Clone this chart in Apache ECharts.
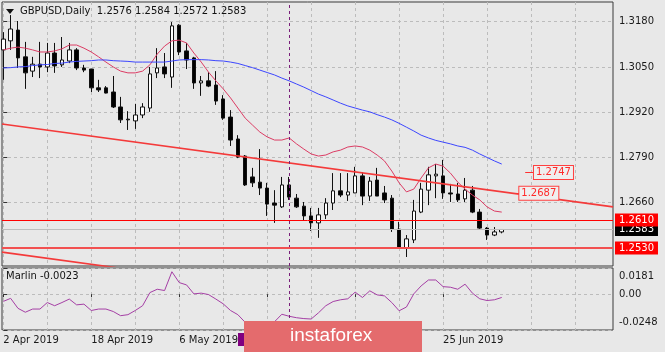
<!DOCTYPE html>
<html>
<head>
<meta charset="utf-8">
<script src="https://cdn.jsdelivr.net/npm/echarts@6/dist/echarts.min.js"></script>
<style>
  html, body { margin: 0; padding: 0; background: #e8e8e8; }
  #chart { width: 665px; height: 352px; }
</style>
</head>
<body>
<div id="chart"></div>
<script>
// GBPUSD daily bars, index 0 = 2 Apr 2019
var opens = [1.3099, 1.3125, 1.3156, 1.3079, 1.3038, 1.3058, 1.3050, 1.3090, 1.3056, 1.3067,
  1.3099, 1.3047, 1.3044, 1.2990, 1.2990, 1.2978, 1.2935, 1.2900, 1.2895, 1.2912,
  1.2932, 1.3033, 1.3050, 1.3021, 1.3170, 1.3096, 1.3076, 1.3004, 1.3010, 1.2998,
  1.2958, 1.2906, 1.2843, 1.2794, 1.2734, 1.2719, 1.2702, 1.2659, 1.2648, 1.2711,
  1.2673, 1.2650, 1.2622, 1.2602, 1.2625, 1.2659, 1.2694, 1.2682, 1.2688, 1.2737,
  1.2679, 1.2725, 1.2688, 1.2673, 1.2584, 1.2530, 1.2553, 1.2633, 1.2696, 1.2737,
  1.2737, 1.2688, 1.2685, 1.2671, 1.2696, 1.2633, 1.2587, 1.2567, 1.2576]
var closes = [1.3130, 1.3159, 1.3076, 1.3033, 1.3058, 1.3050, 1.3090, 1.3053, 1.3070, 1.3099,
  1.3047, 1.3041, 1.2990, 1.2984, 1.2975, 1.2935, 1.2898, 1.2898, 1.2912, 1.2935,
  1.3030, 1.3047, 1.3030, 1.3168, 1.3093, 1.3070, 1.3004, 1.3010, 1.2995, 1.2952,
  1.2903, 1.2840, 1.2791, 1.2711, 1.2717, 1.2702, 1.2656, 1.2653, 1.2711, 1.2676,
  1.2648, 1.2622, 1.2602, 1.2625, 1.2659, 1.2694, 1.2682, 1.2691, 1.2737, 1.2679,
  1.2722, 1.2679, 1.2668, 1.2584, 1.2530, 1.2556, 1.2636, 1.2699, 1.2740, 1.2742,
  1.2688, 1.2685, 1.2668, 1.2696, 1.2633, 1.2587, 1.2567, 1.2576, 1.2583]
var lows = [1.3013, 1.3099, 1.3047, 1.2987, 1.3021, 1.3018, 1.3035, 1.3033, 1.3050, 1.3061,
  1.3041, 1.3035, 1.2978, 1.2978, 1.2974, 1.2932, 1.2889, 1.2869, 1.2872, 1.2903,
  1.2921, 1.3018, 1.3018, 1.2990, 1.3084, 1.3044, 1.2987, 1.2967, 1.2992, 1.2941,
  1.2898, 1.2823, 1.2788, 1.2708, 1.2705, 1.2682, 1.2622, 1.2602, 1.2645, 1.2668,
  1.2645, 1.2610, 1.2579, 1.2559, 1.2613, 1.2639, 1.2676, 1.2665, 1.2688, 1.2653,
  1.2665, 1.2679, 1.2659, 1.2576, 1.2530, 1.2504, 1.2544, 1.2630, 1.2653, 1.2673,
  1.2671, 1.2662, 1.2662, 1.2662, 1.2630, 1.2584, 1.2553, 1.2564, 1.2572]
var highs = [1.3150, 1.3199, 1.3182, 1.3122, 1.3079, 1.3122, 1.3119, 1.3119, 1.3136, 1.3119,
  1.3104, 1.3056, 1.3044, 1.3013, 1.2995, 1.3024, 1.2964, 1.2923, 1.2944, 1.2946,
  1.3050, 1.3104, 1.3090, 1.3179, 1.3173, 1.3119, 1.3079, 1.3024, 1.3035, 1.3038,
  1.2969, 1.2926, 1.2854, 1.2797, 1.2760, 1.2814, 1.2717, 1.2696, 1.2734, 1.2734,
  1.2685, 1.2662, 1.2645, 1.2645, 1.2673, 1.2745, 1.2745, 1.2745, 1.2763, 1.2748,
  1.2734, 1.2760, 1.2708, 1.2682, 1.2605, 1.2567, 1.2668, 1.2717, 1.2763, 1.2771,
  1.2783, 1.2714, 1.2717, 1.2731, 1.2708, 1.2642, 1.2590, 1.2590, 1.2584]

// moving averages as drawn on the chart
var maFast = [1.3099, 1.3104, 1.3107, 1.3104, 1.3099, 1.3093, 1.3093, 1.3096, 1.3102, 1.3113,
  1.3113, 1.3104, 1.3093, 1.3079, 1.3064, 1.3050, 1.3038, 1.3033, 1.3033, 1.3038,
  1.3056, 1.3087, 1.3110, 1.3125, 1.3127, 1.3119, 1.3090, 1.3064, 1.3035, 1.3010,
  1.2987, 1.2961, 1.2932, 1.2903, 1.2883, 1.2863, 1.2849, 1.2840, 1.2840, 1.2846,
  1.2829, 1.2814, 1.2800, 1.2794, 1.2797, 1.2806, 1.2811, 1.2820, 1.2823, 1.2820,
  1.2811, 1.2797, 1.2780, 1.2751, 1.2717, 1.2691, 1.2699, 1.2731, 1.2760, 1.2771,
  1.2765, 1.2745, 1.2719, 1.2699, 1.2682, 1.2668, 1.2648, 1.2636, 1.2633]
var maSlow = [1.3047, 1.3048, 1.3050, 1.3051, 1.3054, 1.3056, 1.3057, 1.3060, 1.3061, 1.3064,
  1.3066, 1.3067, 1.3068, 1.3070, 1.3070, 1.3068, 1.3067, 1.3066, 1.3064, 1.3064,
  1.3064, 1.3064, 1.3064, 1.3067, 1.3070, 1.3071, 1.3071, 1.3071, 1.3070, 1.3068,
  1.3067, 1.3064, 1.3060, 1.3054, 1.3048, 1.3041, 1.3034, 1.3027, 1.3018, 1.3010,
  1.3001, 1.2992, 1.2982, 1.2972, 1.2964, 1.2955, 1.2946, 1.2938, 1.2932, 1.2926,
  1.2921, 1.2913, 1.2906, 1.2898, 1.2888, 1.2877, 1.2866, 1.2854, 1.2846, 1.2839,
  1.2834, 1.2829, 1.2823, 1.2819, 1.2811, 1.2800, 1.2790, 1.2780, 1.2771]

var marlin = [-0.0050, -0.0029, -0.0098, -0.0125, -0.0103, -0.0103, -0.0058, -0.0080, -0.0058, -0.0034,
  -0.0074, -0.0069, -0.0113, -0.0103, -0.0103, -0.0120, -0.0149, -0.0142, -0.0113, -0.0080,
  0.0011, 0.0034, 0.0025, 0.0155, 0.0080, 0.0064, 0.0002, 0.0007, -0.0003, -0.0034,
  -0.0067, -0.0113, -0.0142, -0.0195, -0.0211, -0.0215, -0.0208, -0.0191, -0.0139, -0.0153,
  -0.0163, -0.0169, -0.0172, -0.0129, -0.0080, -0.0051, -0.0039, -0.0032, 0.0014, -0.0023,
  0.0023, -0.0005, -0.0012, -0.0058, -0.0115, -0.0089, 0.0002, 0.0057, 0.0098, 0.0098,
  0.0052, 0.0048, 0.0034, 0.0069, 0.0007, -0.0032, -0.0044, -0.0039, -0.0023]

var priceTicks = [1.2660, 1.2790, 1.2920, 1.3050, 1.3180]
var marlinTicks = [0.0181, 0, -0.0248]
var gridBars = [0, 6, 12, 18, 24, 30, 36, 42, 48, 54, 60, 66, 72, 78]
var dateBars = [0, 12, 24, 36, 48, 60]
var dateLabels = ['2 Apr 2019', '18 Apr 2019', '6 May 2019', '22 May 2019', '7 Jun 2019', '25 Jun 2019']

// channel lines [bar, price]
var channelTop = [[-0.18, 1.2886], [83.18, 1.2648]]
var channelBottom = [[-0.18, 1.2518], [20, 1.2460]]
var levelHigh = 1.2610
var levelLow = 1.2530
var separatorBar = 39
// price marks: [fromBar, toBar, price]
var priceMarks = [[71.2, 72.4, 1.2747], [70.0, 70.4, 1.2687]]

var FONT = 'DejaVu Sans'
var xMin = -0.18
var xMax = 83.18

var last = opens.length - 1
var bid = closes[last]
var candles = opens.map(function (o, i) {
  return [i, o, closes[i], lows[i], highs[i]]
})
function pairs (arr) {
  return arr.map(function (v, i) { return [i, v] })
}

var chart = echarts.init(document.getElementById('chart'))

var boxLabel = function (text, bg) {
  return {
    show: true,
    position: 'end',
    distance: 2,
    formatter: text,
    color: '#fff',
    backgroundColor: bg,
    padding: [2, 4, 1, 4],
    fontFamily: FONT,
    fontSize: 10
  }
}

var markPriceLines = priceMarks.map(function (m) {
  return [
    {
      coord: [m[0], m[2]],
      lineStyle: { color: '#ff3030', width: 1, type: 'solid' },
      label: {
        show: true,
        position: 'end',
        distance: 0,
        formatter: m[2].toFixed(4),
        color: '#ff2a2a',
        backgroundColor: '#efefef',
        borderColor: '#ff4040',
        borderWidth: 1,
        padding: [2, 2, 1, 2],
        fontFamily: FONT,
        fontSize: 10
      }
    },
    { coord: [m[1], m[2]] }
  ]
})

var option = {
  animation: false,
  backgroundColor: '#e8e8e8',
  grid: [
    { left: 2, top: 2, width: 611, height: 264, show: true, borderColor: '#3a3a3a', borderWidth: 1 },
    { left: 2, top: 268, width: 611, height: 62, show: true, borderColor: '#3a3a3a', borderWidth: 1 }
  ],
  xAxis: [
    {
      gridIndex: 0, type: 'value', min: xMin, max: xMax,
      axisLine: { show: false },
      axisTick: { show: false, customValues: gridBars },
      axisLabel: { show: false },
      splitLine: { show: true, lineStyle: { color: '#bcbcbc', type: [3, 3] } }
    },
    {
      gridIndex: 1, type: 'value', min: xMin, max: xMax, position: 'bottom',
      axisLine: { show: false },
      axisTick: { show: true, customValues: dateBars, length: 3, lineStyle: { color: '#333' } },
      axisLabel: {
        customValues: dateBars,
        align: 'left',
        margin: 5,
        color: '#1a1a1a',
        fontFamily: FONT,
        fontSize: 10,
        formatter: function (v) { return dateLabels[dateBars.indexOf(Math.round(v))] || '' }
      },
      splitLine: { show: false }
    },
    {
      gridIndex: 1, type: 'value', min: xMin, max: xMax, position: 'top',
      axisLine: { show: false },
      axisTick: { show: false, customValues: gridBars },
      axisLabel: { show: false },
      splitLine: { show: true, lineStyle: { color: '#bcbcbc', type: [3, 3] } }
    }
  ],
  yAxis: [
    {
      gridIndex: 0, type: 'value', position: 'right', min: 1.24781, max: 1.32366,
      axisLine: { show: false },
      axisTick: { show: true, customValues: priceTicks, length: 4, lineStyle: { color: '#333' } },
      axisLabel: {
        customValues: priceTicks,
        margin: 6,
        color: '#1a1a1a',
        fontFamily: FONT,
        fontSize: 10,
        formatter: function (v) { return v.toFixed(4) }
      },
      splitLine: { show: true, lineStyle: { color: '#bcbcbc', type: [3, 3] } }
    },
    {
      gridIndex: 1, type: 'value', position: 'right', min: -0.0248, max: 0.0181,
      axisLine: { show: false },
      axisTick: { show: true, customValues: marlinTicks, length: 4, lineStyle: { color: '#333' } },
      axisLabel: {
        customValues: marlinTicks,
        margin: 6,
        color: '#1a1a1a',
        fontFamily: FONT,
        fontSize: 10,
        formatter: function (v) {
          if (v > 0) return '{top|' + v.toFixed(4) + '}'
          if (v < 0) return '{bot|' + v.toFixed(4) + '}'
          return '0.00'
        },
        rich: {
          top: { fontFamily: FONT, fontSize: 10, color: '#1a1a1a', padding: [16, 0, 0, 0] },
          bot: { fontFamily: FONT, fontSize: 10, color: '#1a1a1a', padding: [0, 0, 15, 0] }
        }
      },
      splitLine: { show: true, lineStyle: { color: '#bcbcbc', type: [3, 3] } }
    }
  ],
  series: [
    {
      type: 'candlestick',
      xAxisIndex: 0,
      yAxisIndex: 0,
      data: candles,
      barWidth: 4,
      itemStyle: {
        color: '#ffffff',
        color0: '#000000',
        borderColor: '#111',
        borderColor0: '#111',
        borderColorDoji: '#111',
        borderWidth: 1
      },
      markLine: {
        silent: true,
        precision: 5,
        symbol: ['none', 'none'],
        label: { show: false },
        data: [
          { xAxis: separatorBar, lineStyle: { color: '#7a1f7a', type: [3, 3], width: 1 } },
          { yAxis: bid, lineStyle: { color: '#bdbdbd', type: 'solid', width: 1 }, label: boxLabel(bid.toFixed(4), '#000') },
          { yAxis: levelHigh, lineStyle: { color: '#ff0000', type: 'solid', width: 1 }, label: boxLabel(levelHigh.toFixed(4), '#ff0000') },
          { yAxis: levelLow, lineStyle: { color: '#f25050', type: 'solid', width: 2 }, label: boxLabel(levelLow.toFixed(4), '#ff0000') }
        ].concat(markPriceLines)
      }
    },
    {
      type: 'line', xAxisIndex: 0, yAxisIndex: 0,
      data: pairs(maFast), showSymbol: false, silent: true,
      lineStyle: { color: '#dc3c64', width: 1 }
    },
    {
      type: 'line', xAxisIndex: 0, yAxisIndex: 0,
      data: pairs(maSlow), showSymbol: false, silent: true,
      lineStyle: { color: '#3c46ff', width: 1 }
    },
    {
      type: 'line', xAxisIndex: 0, yAxisIndex: 0, clip: true,
      data: channelTop, showSymbol: false, silent: true,
      lineStyle: { color: '#f43a3a', width: 1.6 }
    },
    {
      type: 'line', xAxisIndex: 0, yAxisIndex: 0, clip: true,
      data: channelBottom, showSymbol: false, silent: true,
      lineStyle: { color: '#f43a3a', width: 1.6 }
    },
    {
      type: 'line', xAxisIndex: 1, yAxisIndex: 1,
      data: pairs(marlin), showSymbol: false, silent: true,
      lineStyle: { color: '#a53fa5', width: 1 },
      markLine: {
        silent: true,
        symbol: ['none', 'none'],
        label: { show: false },
        data: [{ xAxis: separatorBar, lineStyle: { color: '#7a1f7a', type: [3, 3], width: 1 } }]
      }
    }
  ],
  graphic: [
    {
      type: 'polygon', z: 100,
      shape: { points: [[6, 9], [14, 9], [10, 14]] },
      style: { fill: '#111' }
    },
    {
      type: 'text', z: 100, left: 20, top: 6,
      style: {
        text: 'GBPUSD,Daily  ' + [opens[last], highs[last], lows[last], closes[last]].map(function (v) { return v.toFixed(4) }).join(' '),
        fill: '#111',
        font: '10px "DejaVu Sans"'
      }
    },
    {
      type: 'text', z: 100, left: 6, top: 271,
      style: { text: 'Marlin ' + marlin[last].toFixed(4), fill: '#111', font: '10px "DejaVu Sans"' }
    },
    {
      type: 'rect', z: 100,
      shape: { x: 238, y: 333, width: 8, height: 13 },
      style: { fill: '#800080' }
    },
    {
      type: 'rect', z: 101,
      shape: { x: 244, y: 321, width: 178, height: 31 },
      style: { fill: '#e46b6d' }
    },
    {
      type: 'text', z: 102, left: 290, top: 326,
      style: { text: 'instaforex', fill: '#ffffff', font: '19px "Liberation Sans"' }
    }
  ]
}

chart.setOption(option)
</script>
</body>
</html>
